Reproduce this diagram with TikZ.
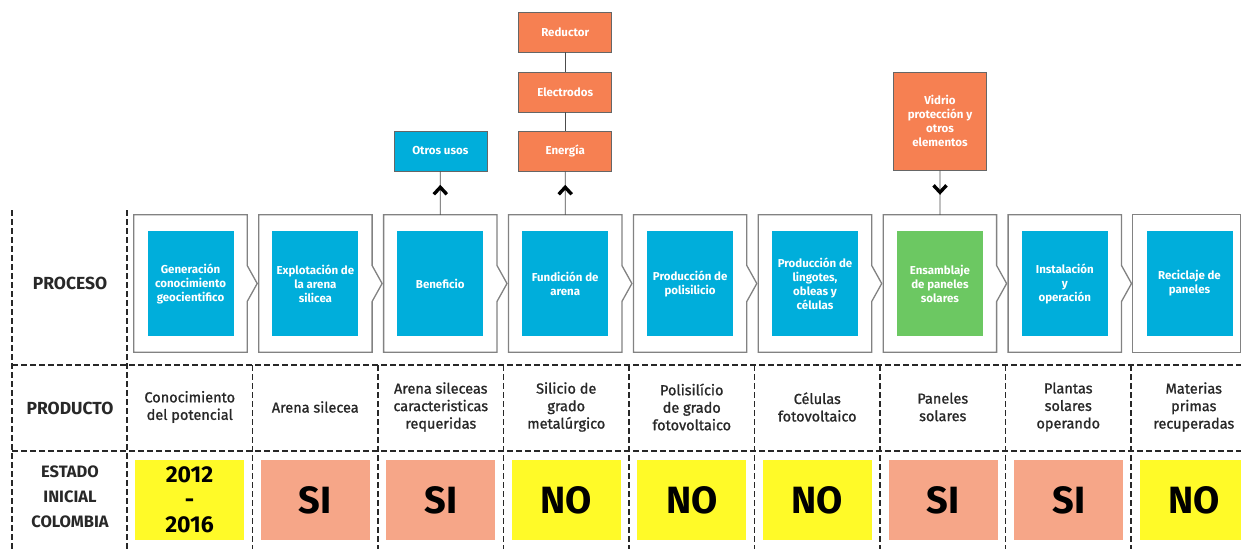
\documentclass[tikz,border=0pt]{standalone}
\usepackage{fontspec}
\setmainfont{Fira Sans}
\newfontfamily\medfont[FakeBold=1.2]{Fira Sans}
\usetikzlibrary{calc}
\definecolor{cblue}{RGB}{0,174,219}
\definecolor{cgreen}{RGB}{108,200,98}
\definecolor{corange}{RGB}{246,128,82}
\definecolor{csalmon}{RGB}{246,166,136}
\definecolor{cyellow}{RGB}{255,250,40}
\definecolor{cgrid}{RGB}{40,40,40}
\definecolor{cframe}{RGB}{130,130,130}
\begin{document}
\begin{tikzpicture}[x=1pt,y=-1pt,
  innerbox/.style={fill=#1, minimum width=86pt, minimum height=105pt, inner sep=0pt,
    text=white, font=\fontsize{11.5}{14}\selectfont\bfseries, align=center},
  outerbox/.style={minimum width=113pt, minimum height=137pt, inner sep=0pt},
  framebox/.style={draw=cframe, line width=1.3pt, fill=white, line join=miter},
  topbox/.style={fill=#1, draw=black!60, line width=0.6pt, minimum width=93pt,
    minimum height=40pt, inner sep=1pt, text=white,
    font=\fontsize{11.5}{14}\selectfont\bfseries, align=center},
  gridline/.style={draw=cgrid, line width=1.3pt, dash pattern=on 6pt off 3pt},
  conn/.style={draw=black!70, line width=0.8pt},
  caretpath/.style={draw=black, line width=3.4pt, line join=miter},
  prodlab/.style={text=cgrid, font=\medfont\fontsize{14.5}{17.5}\selectfont, align=center, inner sep=0pt},
  statebox/.style={fill=#1, minimum width=109pt, minimum height=80pt, inner sep=0pt,
    text=black, font=\fontsize{38}{40}\selectfont\bfseries, align=center},
  rowlab/.style={text=cgrid, font=\fontsize{17.5}{20}\selectfont\bfseries, align=center, inner sep=0pt}
]
\useasboundingbox (0,0) rectangle (1241,549);

% dashed grid
\draw[gridline] (12,210) -- (12,549);
\draw[gridline] (127,210) -- (127,549);
\foreach \k in {1,...,8} \draw[gridline] ({127+125.5*\k},365) -- ({127+125.5*\k},549);
\draw[gridline] (12,365) -- (1241,365);
\draw[gridline] (12,451) -- (1241,451);

% row labels
\node[rowlab] (lproc) at (70,283) {PROCESO};
\node[rowlab] (lprod) at (70,408) {PRODUCTO};
\node[rowlab, font=\fontsize{16.5}{25}\selectfont\bfseries] (lest) at (70,497) {ESTADO\\INICIAL\\COLOMBIA};

% process chain
\foreach \i/\c/\lab in {
  1/cblue/{Generación\\conocimiento\\geocientifico},
  2/cblue/{Explotación de\\la arena\\silicea},
  3/cblue/{Beneficio},
  4/cblue/{Fundición de\\arena},
  5/cblue/{Producción de\\polisilicio},
  6/cblue/{Producción de\\lingotes,\\obleas y\\células},
  7/cgreen/{Ensamblaje\\de paneles\\solares},
  8/cblue/{Instalación\\y\\operación}}{
  \pgfmathsetmacro\cx{190.5+124.9*(\i-1)}
  \node[outerbox] (o\i) at (\cx,283.5) {};
  \draw[framebox] (o\i.north west) -- (o\i.north east) -- ($(o\i.east)+(0,-18)$)
     -- ($(o\i.east)+(10,0)$) -- ($(o\i.east)+(0,18)$) -- (o\i.south east)
     -- (o\i.south west) -- cycle;
  \node[innerbox=\c] (p\i) at (\cx,283.5) {\lab};
}
\node[outerbox, minimum width=107pt] (o9) at (1186.5,283.5) {};
\draw[framebox] (o9.north west) rectangle (o9.south east);
\node[innerbox=cblue] (p9) at (1189.5,283.5) {Reciclaje de\\paneles};

% inputs / outputs
\node[topbox=cblue] (otros) at (440.3,151) {Otros usos};
\node[topbox=corange] (reductor) at (565.2,32) {Reductor};
\node[topbox=corange] (electrodos) at (565.2,92) {Electrodos};
\node[topbox=corange] (energia) at (565.2,151) {Energía};
\node[topbox=corange, minimum height=98pt] (vidrio) at (940,121) {Vidrio\\protección y\\otros\\elementos};

\draw[conn] (reductor) -- (electrodos);
\draw[conn] (electrodos) -- (energia);
\draw[conn] (o3.north) -- (otros.south);
\draw[conn] (o4.north) -- (energia.south);
\draw[conn] (vidrio.south) -- (o7.north);
\draw[caretpath] ($(otros.south)+(-6.5,23)$) -- ($(otros.south)+(0,16)$) -- ($(otros.south)+(6.5,23)$);
\draw[caretpath] ($(energia.south)+(-6.5,23)$) -- ($(energia.south)+(0,16)$) -- ($(energia.south)+(6.5,23)$);
\draw[caretpath] ($(vidrio.south)+(-6.5,15)$) -- ($(vidrio.south)+(0,22)$) -- ($(vidrio.south)+(6.5,15)$);

% products
\foreach \i/\lab in {
  1/{Conocimiento\\del potencial},
  2/{Arena silecea},
  3/{Arena sileceas\\caracteristicas\\requeridas},
  4/{Silicio de\\grado\\metalúrgico},
  5/{Polisilício\\de grado\\fotovoltaico},
  6/{Células\\fotovoltaico},
  7/{Paneles\\solares},
  8/{Plantas\\solares\\operando},
  9/{Materias\\primas\\recuperadas}}{
  \pgfmathsetmacro\cx{189.75+125.5*(\i-1)}
  \node[prodlab] (d\i) at (\cx,407) {\lab};
}

% initial state
\node[statebox=cyellow, font=\fontsize{23}{25}\selectfont\bfseries] (s1) at (189.5,500) {2012\\-\\2016};
\foreach \i/\c/\lab in {2/csalmon/SI, 3/csalmon/SI, 4/cyellow/NO, 5/cyellow/NO,
  6/cyellow/NO, 7/csalmon/SI, 8/csalmon/SI, 9/cyellow/NO}{
  \pgfmathsetmacro\cx{189.5+125.6*(\i-1)}
  \node[statebox=\c] (s\i) at (\cx,500) {\lab};
}
\end{tikzpicture}
\end{document}
